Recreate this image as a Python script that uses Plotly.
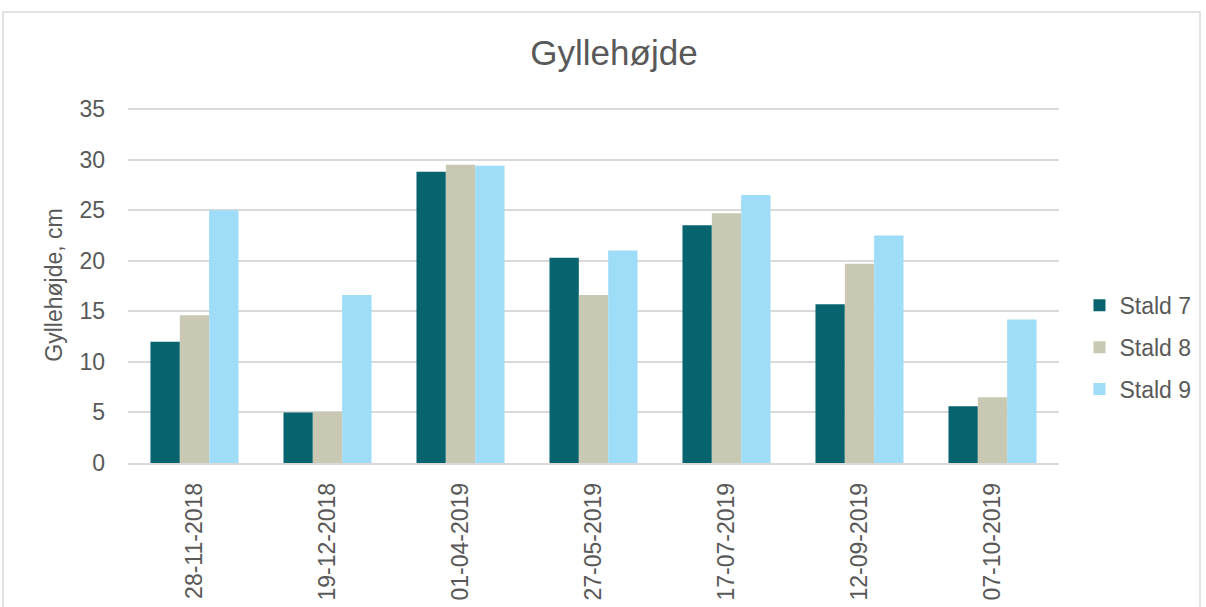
import plotly.graph_objects as go

categories = ["28-11-2018", "19-12-2018", "01-04-2019", "27-05-2019", "17-07-2019", "12-09-2019", "07-10-2019"]
stald7 = [12.0, 5.0, 28.8, 20.3, 23.5, 15.7, 5.6]
stald8 = [14.6, 5.05, 29.5, 16.6, 24.7, 19.7, 6.5]
stald9 = [25.0, 16.6, 29.4, 21.0, 26.5, 22.5, 14.2]
series_names = ["Stald 7", "Stald 8", "Stald 9"]
colors = ["#07646F", "#C8C8B3", "#9EDCF7"]

fig = go.Figure()
for name, vals, col in zip(series_names, [stald7, stald8, stald9], colors):
    fig.add_trace(go.Bar(x=categories, y=vals, name=name, legendgroup=name,
                         marker=dict(color=col, line=dict(width=0))))

W, H = 1206, 607
l, r, t, b = 128, 147, 107, 144
fig.update_layout(
    width=W, height=H,
    margin=dict(l=l, r=r, t=t, b=b, autoexpand=False),
    paper_bgcolor="white", plot_bgcolor="white",
    font=dict(family="Liberation Sans, Arial, sans-serif", color="#595959", size=23),
    title=dict(text="Gyllehøjde", x=614 / W, xanchor="center", y=1 - 53 / H, yanchor="middle",
               font=dict(size=35, color="#595959")),
    barmode="group", bargap=0.338, bargroupgap=0,
    legend=dict(x=1.022, xanchor="left", y=(463 - 348) / 354, yanchor="middle",
                font=dict(size=23, color="#595959"), itemwidth=30, tracegroupgap=9),
    showlegend=True,
)
fig.update_xaxes(tickangle=-90, showgrid=False, showline=True, linecolor="#d9d9d9", linewidth=1.5,
                 tickfont=dict(size=23), ticks="", ticklabelstandoff=9)
fig.update_yaxes(range=[0, 35.2], tickvals=[0, 5, 10, 15, 20, 25, 30, 35], showgrid=True,
                 gridcolor="#d9d9d9", gridwidth=1.5,
                 zeroline=False, tickfont=dict(size=23), ticks="", ticklabelstandoff=22,
                 title=dict(text="Gyllehøjde, cm", font=dict(size=23, color="#595959"), standoff=10))
fig.add_shape(type="rect", xref="paper", yref="paper",
              x0=(3 - l) / (W - l - r), x1=(1200 - l) / (W - l - r),
              y0=-0.6, y1=(H - b - 12) / (H - t - b),
              line=dict(color="#d9d9d9", width=1.5), fillcolor="rgba(0,0,0,0)", layer="below")
fig.write_html("out.html", config={"displayModeBar": False},
               post_script="document.body.style.margin='0px';")
